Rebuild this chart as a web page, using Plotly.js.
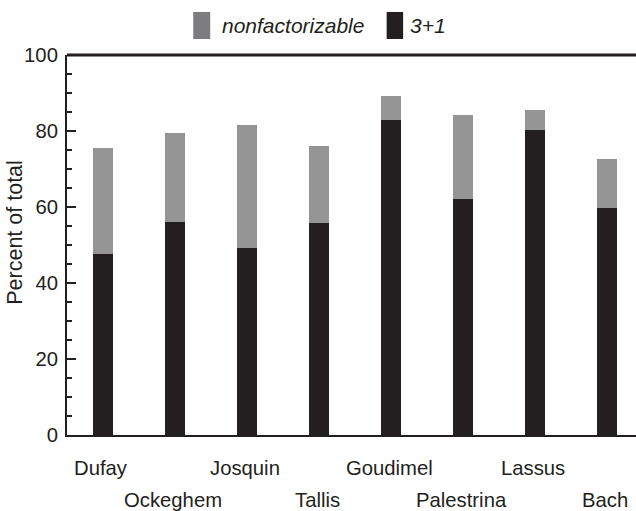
<!DOCTYPE html>
<html>
<head>
<meta charset="utf-8">
<script src="https://cdn.plot.ly/plotly-3.0.1.min.js"></script>
<style>html,body{margin:0;padding:0;background:#fff;}#chart{width:636px;height:511px;}</style>
</head>
<body>
<div id="chart"></div>
<script>
// ---- data ----
var composers = ["Dufay", "Ockeghem", "Josquin", "Tallis", "Goudimel", "Palestrina", "Lassus", "Bach"];
var threePlusOne = [47.6, 56.1, 49.2, 55.7, 82.9, 62.0, 80.2, 59.7];
var nonfactorizable = [27.8, 23.4, 32.4, 20.3, 6.3, 22.3, 5.3, 13.0];
var yTickValues = [0, 20, 40, 60, 80, 100];
var seriesNames = ["nonfactorizable", "3+1"];

// ---- layout constants ----
var W = 636, H = 511;
var L = 66.7, T = 55, B = 434.7;
var plotW = W - L, plotH = B - T;
function px(x) { return (x - L) / plotW; }
function py(y) { return (B - y) / plotH; }

var BLACK = "#231f20", GREY = "#959596", LEG_GREY = "#7d7d7f";
var FONT = "Liberation Sans, Arial, Helvetica, sans-serif";
var FS = 20.3;

var traces = [
  {type: "bar", x: composers, y: threePlusOne, name: seriesNames[1],
   marker: {color: BLACK, line: {width: 0}}, showlegend: false, hoverinfo: "x+y"},
  {type: "bar", x: composers, y: nonfactorizable, name: seriesNames[0],
   marker: {color: GREY, line: {width: 0}}, showlegend: false, hoverinfo: "x+y"}
];

var annotations = composers.map(function (c, i) {
  return {xref: "x", yref: "paper", x: c, y: (i % 2 === 0) ? py(467.5) : py(500),
          text: c, showarrow: false, xanchor: "center", yanchor: "middle", xshift: -2,
          font: {family: FONT, size: FS, color: BLACK}};
});
annotations.push({xref: "paper", yref: "paper", x: px(15.3), y: py(232), text: "Percent of total",
  textangle: -90, showarrow: false, xanchor: "center", yanchor: "middle",
  font: {family: FONT, size: 21.5, color: BLACK}});
annotations.push({xref: "paper", yref: "paper", x: px(220), y: py(26), text: "<i>" + seriesNames[0] + "</i>",
  showarrow: false, xanchor: "left", yanchor: "middle", font: {family: FONT, size: 21, color: BLACK}});
annotations.push({xref: "paper", yref: "paper", x: px(408), y: py(26), text: "<i>" + seriesNames[1] + "</i>",
  showarrow: false, xanchor: "left", yanchor: "middle", font: {family: FONT, size: 21, color: BLACK}});

var shapes = [
  {type: "line", xref: "paper", yref: "paper", x0: 0, x1: 1, y0: 1, y1: 1, line: {color: BLACK, width: 3}},
  {type: "rect", xref: "paper", yref: "paper", x0: px(193), x1: px(210), y0: py(39), y1: py(12),
   fillcolor: LEG_GREY, line: {width: 0}},
  {type: "rect", xref: "paper", yref: "paper", x0: px(386.5), x1: px(403), y0: py(39), y1: py(12),
   fillcolor: BLACK, line: {width: 0}}
];

var layout = {
  width: W, height: H,
  margin: {l: L, r: 0, t: T, b: H - B, pad: 0},
  paper_bgcolor: "#fff", plot_bgcolor: "#fff",
  barmode: "stack", bargap: 0.717,
  showlegend: false,
  font: {family: FONT, size: FS, color: BLACK},
  xaxis: {type: "category", range: [-0.5, 7.4], showline: true, linecolor: BLACK, linewidth: 2,
          ticks: "", showticklabels: false, showgrid: false, zeroline: false, fixedrange: true},
  yaxis: {range: [0, 100], tickvals: yTickValues, ticktext: yTickValues.map(String),
          showline: true, linecolor: BLACK, linewidth: 2,
          ticks: "inside", ticklen: 9, tickwidth: 1.5, tickcolor: BLACK,
          minor: {tickvals: [5,10,15,25,30,35,45,50,55,65,70,75,85,90,95], ticks: "inside", ticklen: 5, tickwidth: 1.2, tickcolor: BLACK},
          ticklabelstandoff: 3,
          tickfont: {family: FONT, size: FS, color: BLACK},
          showgrid: false, zeroline: false, fixedrange: true},
  annotations: annotations,
  shapes: shapes
};

Plotly.newPlot("chart", traces, layout, {displayModeBar: false, staticPlot: true});
</script>
</body>
</html>
